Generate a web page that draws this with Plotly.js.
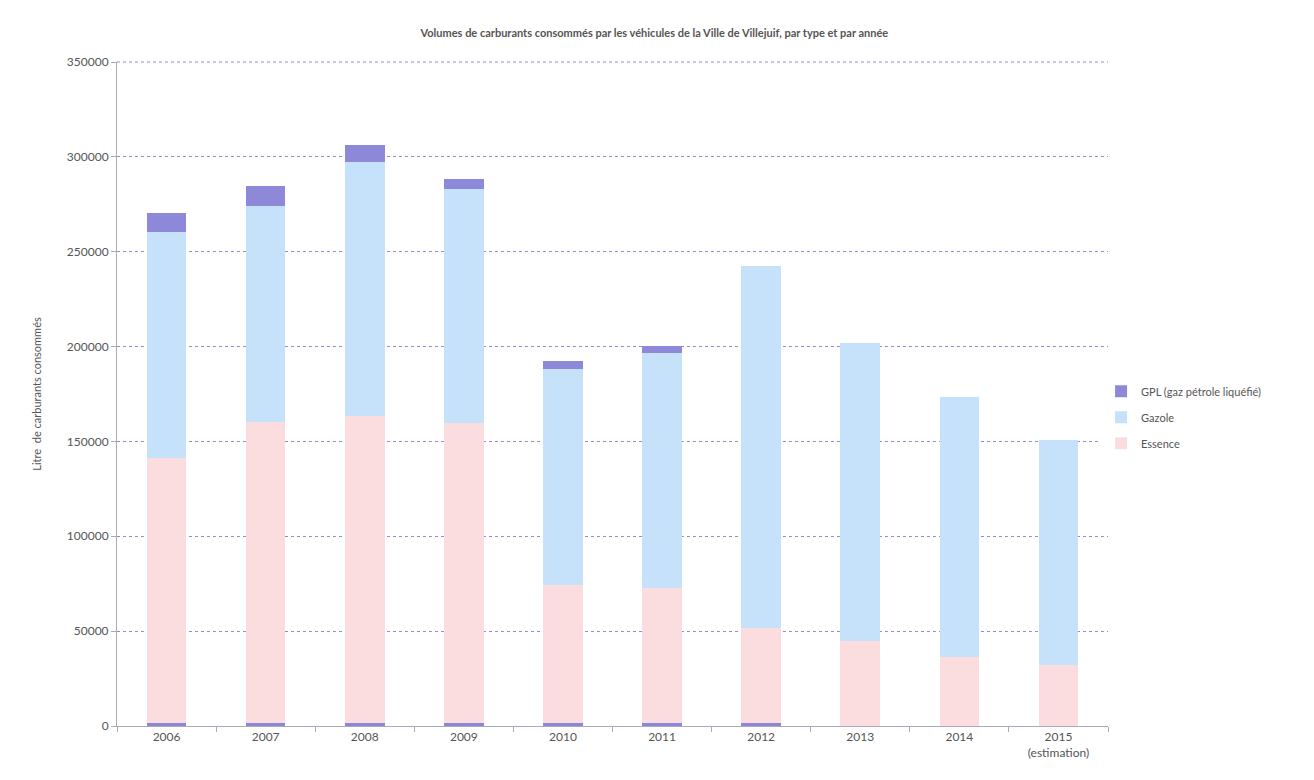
<!DOCTYPE html>
<html><head><meta charset="utf-8">
<script src="https://cdn.plot.ly/plotly-3.0.1.min.js"></script>
<style>html,body{margin:0;padding:0;background:#fff;}#chart{width:1314px;height:780px;}</style>
</head><body><div id="chart"></div>
<script>
const years = ["2006","2007","2008","2009","2010","2011","2012","2013","2014","2015<br>(estimation)"];
const autre = [1500,1800,1500,1500,1500,1500,1500,0,0,0];
const essence = [140000,158500,162000,158000,73000,71000,50000,45000,36500,32000];
const gazole = [119000,114000,134000,123500,113500,124000,191000,157000,137000,119000];
const gpl = [10000,10500,8500,5300,4200,3700,0,0,0,0];

const ff = "Lato, 'Open Sans', sans-serif";
const traces = [
  {type:"bar", x:years, y:autre, name:"", showlegend:false, marker:{color:"#8c86d6"}, hoverinfo:"skip"},
  {type:"bar", x:years, y:essence, name:"Essence", legendgroup:"c", legendrank:3, marker:{color:"#fbdde0"}},
  {type:"bar", x:years, y:gazole, name:"Gazole", legendgroup:"b", legendrank:2, marker:{color:"#c6e2fa"}},
  {type:"bar", x:years, y:gpl, name:"GPL (gaz pétrole liquéfié)", legendgroup:"a", legendrank:1, marker:{color:"#8e88d8"}}
];
const layout = {
  width:1314, height:780,
  barmode:"stack", bargap:0.6,
  margin:{l:117, r:206, t:62, b:54},
  paper_bgcolor:"#fff", plot_bgcolor:"#fff",
  font:{family:ff, size:12, color:"#555"},
  title:{text:"<b>Volumes de carburants consommés par les véhicules de la Ville de Villejuif, par type et par année</b>",
    font:{family:ff, size:11, color:"#555"}, x:0.498, xanchor:"center", y:0.958, yanchor:"middle"},
  xaxis:{type:"category", showline:true, linecolor:"#aab", linewidth:1, ticks:"outside", tickson:"boundaries", ticklen:5, tickcolor:"#aab",
    tickfont:{family:ff, size:12, color:"#555"}},
  yaxis:{range:[0,350000], dtick:50000, tickformat:"d", showline:true, linecolor:"#aab", linewidth:1,
    ticks:"outside", ticklen:5, tickcolor:"#aab", showgrid:true, gridcolor:"#8a8fd0", griddash:"dot", gridwidth:1,
    zeroline:false, tickfont:{family:ff, size:12, color:"#555"},
    title:{text:"Litre  de carburants consommés", font:{family:ff, size:11, color:"#555"}, standoff:22}},
  shapes:[{type:"line", xref:"paper", yref:"paper", x0:0, x1:1, y0:1, y1:1, line:{color:"#8a8fd0", width:1, dash:"dot"}}],
  legend:{x:0.993, xanchor:"left", y:0.465, yanchor:"middle", font:{family:ff, size:11, color:"#555"}, itemwidth:30, tracegroupgap:7, traceorder:"grouped"}
};
Plotly.newPlot("chart", traces, layout, {displayModeBar:false, staticPlot:true});
</script></body></html>
